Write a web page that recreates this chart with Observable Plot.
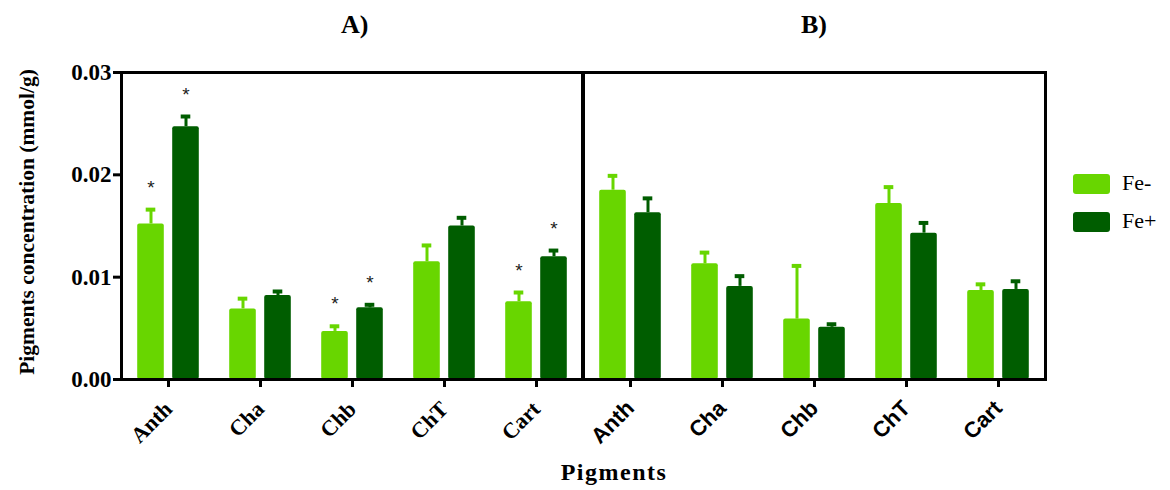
<!DOCTYPE html>
<html>
<head>
<meta charset="utf-8">
<script src="https://cdn.jsdelivr.net/npm/d3@7"></script>
<script src="https://cdn.jsdelivr.net/npm/@observablehq/plot@0.6"></script>
<style>
  html, body { margin: 0; padding: 0; background: #fff; }
  #wrap { position: relative; width: 1170px; height: 490px; overflow: hidden; background: #fff; }
  .abs { position: absolute; }
  .title { font-family: "Liberation Serif", serif; font-weight: bold; font-size: 26px; color: #000; }
  .ylab { font-family: "Liberation Serif", serif; font-weight: bold; font-size: 21.5px; white-space: nowrap;
          transform-origin: center center; transform: translate(-50%, -50%) rotate(-90deg); }
  .xlab { font-family: "Liberation Serif", serif; font-weight: bold; font-size: 24px; letter-spacing: 1.5px;
          transform: translateX(-50%); white-space: nowrap; }
  .lgbox { width: 37px; height: 20px; border-radius: 3px; }
  .lgtxt { font-family: "Liberation Serif", serif; font-size: 22px; color: #000; }
  .divider { width: 4px; background: #000; }
</style>
</head>
<body>
<div id="wrap"></div>
<script>
// ---- data ----
const pigments = ["Anth", "Cha", "Chb", "ChT", "Cart"];
const treatments = ["Fe-", "Fe+"];
const panelTitles = ["A)", "B)"];
const yTicks = [0, 0.01, 0.02, 0.03];

// Panel A
const meanA_FeMinus = [0.0152, 0.0069, 0.0047, 0.0115, 0.0076];
const errA_FeMinus  = [0.0014, 0.0010, 0.0005, 0.0016, 0.0009];
const sigA_FeMinus  = [true, false, true, false, true];
const meanA_FePlus  = [0.0247, 0.0082, 0.0070, 0.0150, 0.0120];
const errA_FePlus   = [0.0010, 0.0004, 0.0003, 0.0008, 0.0006];
const sigA_FePlus   = [true, false, true, false, true];

// Panel B
const meanB_FeMinus = [0.0185, 0.0113, 0.0059, 0.0172, 0.0087];
const errB_FeMinus  = [0.0014, 0.0011, 0.0052, 0.0016, 0.0006];
const sigB_FeMinus  = [false, false, false, false, false];
const meanB_FePlus  = [0.0163, 0.0091, 0.0051, 0.0143, 0.0088];
const errB_FePlus   = [0.0014, 0.0010, 0.0003, 0.0010, 0.0008];
const sigB_FePlus   = [false, false, false, false, false];

const colors = {"Fe-": "#68d600", "Fe+": "#005d00"};

function rows(means, errs, sigs, treatment) {
  return pigments.map((p, i) => ({
    pigment: p, treatment, mean: means[i], top: means[i] + errs[i], sig: sigs[i]
  }));
}

function seriesMarks(data, offset) {
  const t = data[0].treatment;
  const c = colors[t];
  return [
    Plot.ruleX(data, {x: "pigment", y1: "mean", y2: "top", dx: offset, stroke: c, strokeWidth: 3}),
    Plot.tickY(data, {x: "pigment", y: "top", dx: offset, stroke: c, strokeWidth: 4, insetLeft: 41.2, insetRight: 41.2}),
    Plot.barY(data, {x: "pigment", y: "mean", fill: c, dx: offset, insetLeft: 32.7, insetRight: 32.7, rx: 2}),
    Plot.text(data.filter(d => d.sig), {x: "pigment", y: "top", text: () => "*", dx: offset, dy: -22,
      fontSize: 19, fontWeight: "normal", fontFamily: "'Liberation Sans', sans-serif", fill: "#222"})
  ];
}

function panel({minus, plus, showY, tickFont, tickSize, tickPad, width, marginLeft, marginRight}) {
  return Plot.plot({
    width, height: 450,
    marginLeft, marginRight, marginTop: 72, marginBottom: 71,
    x: {domain: pigments, padding: 0, label: null, axis: null},
    y: {domain: [0, 0.03], label: null, axis: null},
    style: {fontFamily: tickFont, fontWeight: "bold", fontSize: tickSize + "px", background: "transparent", color: "#000", overflow: "visible"},
    marks: [
      showY ? Plot.axisY({ticks: yTicks, tickFormat: d3.format(".2f"), tickSize: 8, tickPadding: 2,
        strokeWidth: 3, fontSize: 23, fontFamily: "'Liberation Serif', serif", label: null}) : null,
      Plot.axisX({tickRotate: -45, tickSize: 8, tickPadding: tickPad, strokeWidth: 3, fontSize: tickSize, label: null}),
      ...seriesMarks(minus, -17.5),
      ...seriesMarks(plus, 17.5),
      Plot.frame({strokeWidth: 3, stroke: "#000"})
    ]
  });
}

const wrap = document.getElementById("wrap");

const chartA = panel({
  minus: rows(meanA_FeMinus, errA_FeMinus, sigA_FeMinus, "Fe-"),
  plus: rows(meanA_FePlus, errA_FePlus, sigA_FePlus, "Fe+"),
  showY: true, tickFont: "'Liberation Serif', serif", tickSize: 22, tickPad: 18, width: 590, marginLeft: 121, marginRight: 7
});
chartA.style.position = "absolute"; chartA.style.left = "0px"; chartA.style.top = "0px";
wrap.appendChild(chartA);

const chartB = panel({
  minus: rows(meanB_FeMinus, errB_FeMinus, sigB_FeMinus, "Fe-"),
  plus: rows(meanB_FePlus, errB_FePlus, sigB_FePlus, "Fe+"),
  showY: false, tickFont: "'Liberation Sans', sans-serif", tickSize: 22, tickPad: 17, width: 476, marginLeft: 7, marginRight: 7
});
chartB.style.position = "absolute"; chartB.style.left = "576px"; chartB.style.top = "0px";
wrap.appendChild(chartB);

function addDiv(cls, text, css) {
  const d = document.createElement("div");
  d.className = "abs " + cls;
  if (text != null) d.textContent = text;
  Object.assign(d.style, css);
  wrap.appendChild(d);
  return d;
}

// shared border between the two panels
addDiv("divider", null, {left: "581px", top: "71px", height: "310px"});

addDiv("title", panelTitles[0], {left: "341px", top: "10px"});
addDiv("title", panelTitles[1], {left: "801px", top: "10px"});
addDiv("ylab", "Pigments concentration (mmol/g)", {left: "27px", top: "222px"});
addDiv("xlab", "Pigments", {left: "614px", top: "459px"});

treatments.forEach((t, i) => {
  addDiv("lgbox", null, {left: "1073px", top: (174 + i * 38) + "px", background: colors[t]});
  addDiv("lgtxt", t, {left: "1122px", top: (170 + i * 38) + "px"});
});
</script>
</body>
</html>
